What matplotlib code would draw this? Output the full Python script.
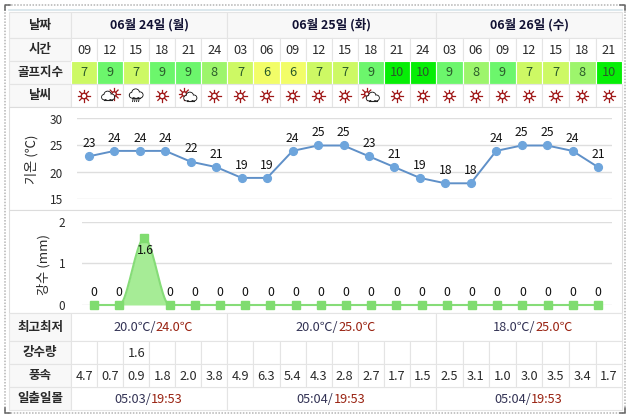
import numpy as np
import matplotlib
matplotlib.use("Agg")
import matplotlib.pyplot as plt
from matplotlib.patches import Rectangle, Circle, Ellipse

plt.rcParams['font.family'] = ['Noto Sans CJK KR', 'DejaVu Sans']

W, H = 631, 419

days = ["06월 24일 (월)", "06월 25일 (화)", "06월 26일 (수)"]
day_cols = [6, 8, 7]
hours = ["09", "12", "15", "18", "21", "24", "03", "06", "09", "12", "15", "18", "21", "24",
         "03", "06", "09", "12", "15", "18", "21"]
golf = [7, 9, 7, 9, 9, 8, 7, 6, 6, 7, 7, 9, 10, 10, 9, 8, 9, 7, 7, 8, 10]
weather = ["s", "c", "r", "s", "p", "s", "s", "s", "s", "s", "s", "p", "s", "s", "s", "s", "s", "s", "s", "s", "s"]
temps = [23, 24, 24, 24, 22, 21, 19, 19, 24, 25, 25, 23, 21, 19, 18, 18, 24, 25, 25, 24, 21]
rain = [0, 0, 1.6, 0, 0, 0, 0, 0, 0, 0, 0, 0, 0, 0, 0, 0, 0, 0, 0, 0, 0]
wind = ["4.7", "0.7", "0.9", "1.8", "2.0", "3.8", "4.9", "6.3", "5.4", "4.3", "2.8", "2.7", "1.7", "1.5",
        "2.5", "3.1", "1.0", "3.0", "3.5", "3.4", "1.7"]
rain_txt = ["", "", "1.6"] + [""] * 18
low_high = [("20.0℃", "24.0℃"), ("20.0℃", "25.0℃"), ("18.0℃", "25.0℃")]
sun_times = [("05:03", "19:53"), ("05:04", "19:53"), ("05:04", "19:53")]
golf_colors = {6: "#f2fd68", 7: "#cdf964", 8: "#9df56c", 9: "#6cf66c", 10: "#06ee06"}

grid_c = "#e4e4e4"
head_c = "#f8f8f8"
txt_c = "#2a2a2a"
num_fs = 9.2

fig = plt.figure(figsize=(W / 100, H / 100), dpi=100)
bg = fig.add_axes([0, 0, 1, 1])
bg.set_xlim(0, W)
bg.set_ylim(H, 0)
bg.axis("off")

# column edges in pixels, one run per day
edges = [71 + 26.07 * i for i in range(15)]
edges += [edges[-1] + 26.6 * i for i in range(1, 8)]
day_edges = [edges[0], edges[6], edges[14], edges[21]]
rows = [12, 38, 61, 84, 107, 313, 341, 364, 387, 410]
left = 9


def cell(x0, y0, x1, y1, fc="white", ec=grid_c):
    bg.add_patch(Rectangle((x0, y0), x1 - x0, y1 - y0, fc=fc, ec=ec, lw=0.8))


def head(y0, y1, s):
    cell(left, y0, 71, y1, fc=head_c)
    bg.text(40, (y0 + y1) / 2, s, ha="center", va="center", fontsize=9, fontweight="bold", color=txt_c)


def sun(x, y, r=2.8):
    for a in np.arange(0, 360, 45):
        dx, dy = np.cos(np.radians(a)), np.sin(np.radians(a))
        bg.plot([x + r * dx, x + (r + 3.4) * dx], [y + r * dy, y + (r + 3.4) * dy], color="#a01818", lw=0.9)
    bg.add_patch(Circle((x, y), r, fc="white", ec="#a01818", lw=1.0, zorder=3))


def cloud(x, y, s=1.0):
    parts = [(-4, 1.2, 2.8), (-0.5, -1.2, 3.8), (3.8, 1.0, 3.0)]
    for dx, dy, r in parts:
        bg.add_patch(Ellipse((x + dx * s, y + dy * s), 2 * r * s, 2 * r * s, fc="white", ec="#222222", lw=0.8, zorder=4))
    for dx, dy, r in parts:
        bg.add_patch(Ellipse((x + dx * s, y + dy * s), 2 * (r - 0.5) * s, 2 * (r - 0.5) * s, fc="white", ec="none", zorder=5))
    bg.add_patch(Rectangle((x - 4 * s, y), 8 * s, 3.4 * s, fc="white", ec="none", zorder=5))
    bg.plot([x - 4 * s, x + 4 * s], [y + 3.8 * s, y + 3.8 * s], color="#222222", lw=0.8, zorder=6)


# outer frame
bg.add_patch(Rectangle((5, 5), 620, 408, fc="none", ec="#b4b4b4", lw=1.1, ls=(0, (1, 1))))
for xs, ys in [([5, 5, 10], [10, 5, 5]), ([620, 625, 625], [5, 5, 10]),
               ([5, 5, 10], [408, 413, 413]), ([620, 625, 625], [413, 413, 408])]:
    bg.plot(xs, ys, color="#666666", lw=1.1)
bg.plot([left, 622], [10, 10], color="#d6e4ea", lw=1.2)

# top table
head(rows[0], rows[1], "날짜")
for i, d in enumerate(days):
    cell(day_edges[i], rows[0], day_edges[i + 1], rows[1], fc=head_c)
    bg.text((day_edges[i] + day_edges[i + 1]) / 2, 25, d, ha="center", va="center",
            fontsize=9, fontweight="bold", color="#111133")
head(rows[1], rows[2], "시간")
head(rows[2], rows[3], "골프지수")
head(rows[3], rows[4], "날씨")
for i in range(21):
    x0, x1 = edges[i], edges[i + 1]
    xc = (x0 + x1) / 2
    cell(x0, rows[1], x1, rows[2])
    bg.text(xc, 50, hours[i], ha="center", va="center", fontsize=num_fs, color=txt_c)
    cell(x0, rows[2], x1, rows[3], fc=golf_colors[golf[i]], ec="white")
    bg.text(xc, 73, str(golf[i]), ha="center", va="center", fontsize=num_fs, color="#2a5a2a")
    cell(x0, rows[3], x1, rows[4])
    yc = 96
    if weather[i] == "s":
        sun(xc, yc)
    elif weather[i] == "c":
        sun(xc + 4, yc - 2, 2.2)
        cloud(xc - 2, yc, 0.95)
    elif weather[i] == "r":
        cloud(xc, yc - 2, 1.0)
        for dx in (-3, -1, 1, 3):
            bg.plot([xc + dx, xc + dx - 0.6], [yc + 2.5, yc + 5.5], color="#222222", lw=0.7)
    else:
        sun(xc - 4, yc - 2, 2.2)
        cloud(xc + 2, yc + 1, 0.95)

# chart panels
cell(left, 107, 622, 210, fc="white", ec="#dcdcdc")
cell(left, 210, 622, 313, fc="white", ec="#dcdcdc")

# temperature chart: y axis 15..30 spans pixel 199.5..118.5
x_t = 89 + 25.45 * np.arange(21)
ax1 = fig.add_axes([77 / W, 1 - 199.5 / H, (612 - 77) / W, 81 / H])
ax1.set_xlim(77, 612)
ax1.set_ylim(15, 30)
ax1.patch.set_alpha(0)
for s in ax1.spines.values():
    s.set_visible(False)
ax1.set_yticks([15, 20, 25, 30])
ax1.set_xticks([])
ax1.grid(axis="y", color="#dedede", lw=1)
ax1.set_axisbelow(True)
ax1.tick_params(axis="y", length=0, labelsize=8.5, labelcolor=txt_c, pad=10)
ax1.plot(x_t, temps, color="#5f90c8", lw=1.4, marker="o", ms=5.6, mfc="#6ea5dc", mec="#6ea5dc", clip_on=False)
for x, t in zip(x_t, temps):
    ax1.annotate(str(t), (x, t), xytext=(0, 4.5), textcoords="offset points", ha="center", va="bottom",
                 fontsize=8.8, fontweight="medium", color="#111111")
bg.text(32, 159, "기온 (℃)", rotation=90, ha="center", va="center", fontsize=9.5, color=txt_c)

# rain chart: y axis 0..2 spans pixel 305..221.5
x_r = 94 + 25.2 * np.arange(21)
ax2 = fig.add_axes([82 / W, 1 - 305 / H, (612 - 82) / W, 83.5 / H])
ax2.set_xlim(82, 612)
ax2.set_ylim(0, 2)
ax2.patch.set_alpha(0)
for s in ax2.spines.values():
    s.set_visible(False)
ax2.set_yticks([0, 1, 2])
ax2.set_xticks([])
ax2.grid(axis="y", color="#dedede", lw=1)
ax2.set_axisbelow(True)
ax2.tick_params(axis="y", length=0, labelsize=8.5, labelcolor=txt_c, pad=12)
# smooth the rain line between samples, flat tangent at every sample
xs, ys = [], []
for i in range(20):
    u = np.linspace(0, 1, 20)
    xs.extend(x_r[i] + u * (x_r[i + 1] - x_r[i]))
    ys.extend(rain[i] + (3 * u ** 2 - 2 * u ** 3) * (rain[i + 1] - rain[i]))
ax2.fill_between(xs, 0, ys, color="#a6ec96", lw=0)
ax2.plot(xs, ys, color="#86dc78", lw=1.5, clip_on=False)
ax2.plot(x_r, rain, ls="none", marker="s", ms=5.8, mfc="#80dc70", mec="#80dc70", clip_on=False)
for x, r in zip(x_r, rain):
    if r > 0:
        ax2.annotate(f"{r:g}", (x, r), xytext=(0.5, -8.8), textcoords="offset points", ha="center", va="center",
                     fontsize=8.8, fontweight="medium", color="#111111")
    else:
        ax2.annotate(f"{r:g}", (x, r), xytext=(0, 4.5), textcoords="offset points", ha="center", va="bottom",
                     fontsize=8.8, fontweight="medium", color="#111111")
bg.text(44, 264, "강수 (mm)", rotation=90, ha="center", va="center", fontsize=9.5, color=txt_c)

# bottom table
head(rows[5], rows[6], "최고최저")
head(rows[6], rows[7], "강수량")
head(rows[7], rows[8], "풍속")
head(rows[8], rows[9], "일출일몰")
for i in range(3):
    cell(day_edges[i], rows[5], day_edges[i + 1], rows[6])
    cell(day_edges[i], rows[8], day_edges[i + 1], rows[9])
    xc = (day_edges[i] + day_edges[i + 1]) / 2
    a = bg.annotate(low_high[i][0] + "/", (xc - 36, 327), va="center", ha="left", fontsize=num_fs, color="#333355")
    bg.annotate(low_high[i][1], xy=(1, 0.5), xycoords=a, xytext=(0, 0), textcoords="offset points",
                va="center", ha="left", fontsize=num_fs, color="#992211")
    a = bg.annotate(sun_times[i][0] + "/", (xc - 35, 399), va="center", ha="left", fontsize=num_fs, color="#333355")
    bg.annotate(sun_times[i][1], xy=(1, 0.5), xycoords=a, xytext=(0, 0), textcoords="offset points",
                va="center", ha="left", fontsize=num_fs, color="#992211")
for i in range(21):
    x0, x1 = edges[i], edges[i + 1]
    cell(x0, rows[6], x1, rows[7])
    cell(x0, rows[7], x1, rows[8])
    bg.text((x0 + x1) / 2, 353, rain_txt[i], ha="center", va="center", fontsize=num_fs, color=txt_c)
    bg.text((x0 + x1) / 2, 376, wind[i], ha="center", va="center", fontsize=num_fs, color=txt_c)

fig.savefig("out.png", dpi=100)
